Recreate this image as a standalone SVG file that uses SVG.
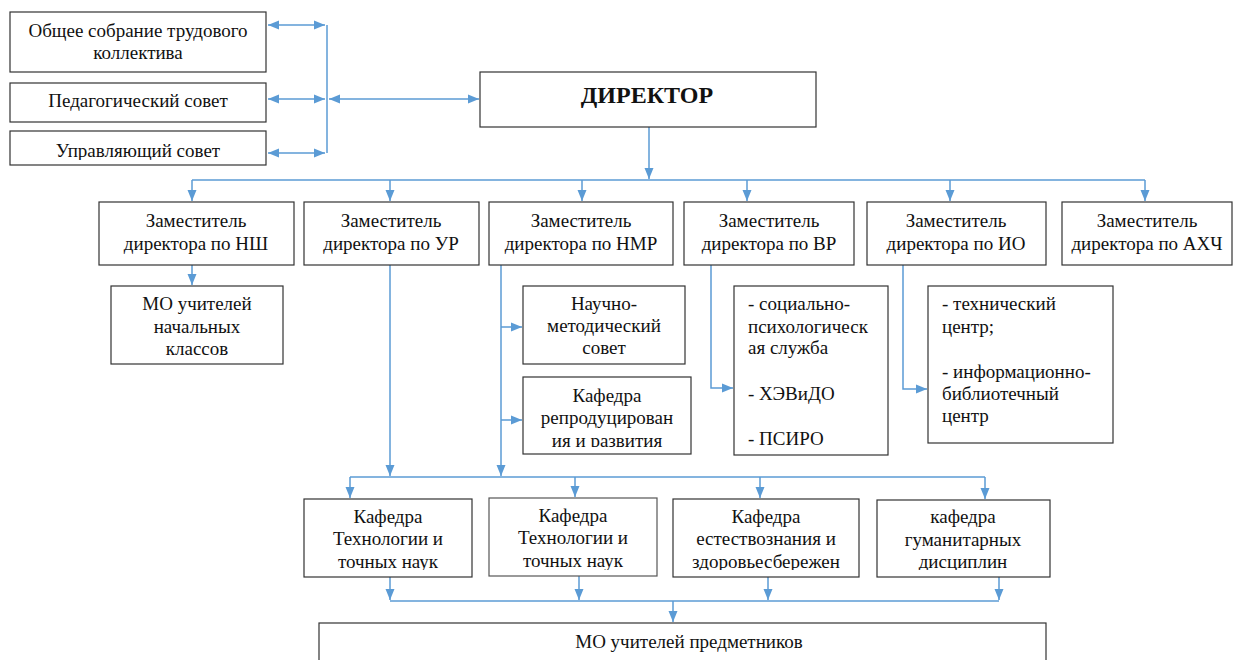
<svg xmlns="http://www.w3.org/2000/svg" width="1234" height="660" viewBox="0 0 1234 660">
<defs>
<style>
.box{fill:#fff;stroke:#333;stroke-width:1.2}
.t{font-size:19px;fill:#111}
.c{text-anchor:middle}
.b{font-weight:bold;font-size:24px}
.ln{fill:none;stroke:#5B9BD5;stroke-width:1.5}
</style>
<marker id="ah" markerUnits="userSpaceOnUse" markerWidth="12" markerHeight="12" viewBox="0 0 12 12" refX="11" refY="6" orient="auto-start-reverse">
<path d="M0,1.5 L11,6 L0,10.5 Z" fill="#5B9BD5"/>
</marker>
<clipPath id="cl1"><rect x="0" y="131" width="300" height="29"/></clipPath>
<clipPath id="cl2"><rect x="300" y="490" width="800" height="80"/></clipPath>
<clipPath id="cl3"><rect x="520" y="377" width="180" height="70"/></clipPath>
</defs>
<rect width="1234" height="660" fill="#fff"/>

<g id="connectors">
<path class="ln" d="M327,25 V153"/>
<path class="ln" d="M268,25 H325" marker-start="url(#ah)" marker-end="url(#ah)"/>
<path class="ln" d="M268,99 H325" marker-start="url(#ah)" marker-end="url(#ah)"/>
<path class="ln" d="M268,153 H325" marker-start="url(#ah)" marker-end="url(#ah)"/>
<path class="ln" d="M329,99 H479" marker-start="url(#ah)" marker-end="url(#ah)"/>
<path class="ln" d="M649,127 V179" marker-end="url(#ah)"/>
<path class="ln" d="M192,180 H1145"/>
<path class="ln" d="M192,180 V201" marker-end="url(#ah)"/>
<path class="ln" d="M390,180 V201" marker-end="url(#ah)"/>
<path class="ln" d="M582,180 V201" marker-end="url(#ah)"/>
<path class="ln" d="M747,180 V201" marker-end="url(#ah)"/>
<path class="ln" d="M950,180 V201" marker-end="url(#ah)"/>
<path class="ln" d="M1145,180 V201" marker-end="url(#ah)"/>
<path class="ln" d="M192,265 V285" marker-end="url(#ah)"/>
<path class="ln" d="M390,265 V476" marker-end="url(#ah)"/>
<path class="ln" d="M501,265 V476" marker-end="url(#ah)"/>
<path class="ln" d="M501,327 H522" marker-end="url(#ah)"/>
<path class="ln" d="M501,420 H522" marker-end="url(#ah)"/>
<path class="ln" d="M711,265 V388 H733" marker-end="url(#ah)"/>
<path class="ln" d="M903,265 V389 H927" marker-end="url(#ah)"/>
<path class="ln" d="M350,477 H985"/>
<path class="ln" d="M350,477 V498" marker-end="url(#ah)"/>
<path class="ln" d="M575,477 V497" marker-end="url(#ah)"/>
<path class="ln" d="M760,477 V498" marker-end="url(#ah)"/>
<path class="ln" d="M985,477 V499" marker-end="url(#ah)"/>
<path class="ln" d="M390,577 V600" marker-end="url(#ah)"/>
<path class="ln" d="M579,576 V600" marker-end="url(#ah)"/>
<path class="ln" d="M768,577 V600" marker-end="url(#ah)"/>
<path class="ln" d="M999,577 V600" marker-end="url(#ah)"/>
<path class="ln" d="M390,601 H999"/>
<path class="ln" d="M673,601 V622" marker-end="url(#ah)"/>
</g>

<g font-family="Liberation Serif, Times New Roman, serif">
<g id="n-sobranie">
<rect class="box" x="10" y="12" width="256" height="60"/>
<text class="t c" x="138" y="37">Общее собрание трудового</text>
<text class="t c" x="138" y="59">коллектива</text>
</g>
<g id="n-pedsovet">
<rect class="box" x="10" y="83" width="256" height="39"/>
<text class="t c" x="138" y="107">Педагогический совет</text>
</g>
<g id="n-upravsovet">
<rect class="box" x="10" y="131" width="256" height="34"/>
<text class="t c" x="138" y="157" clip-path="url(#cl1)">Управляющий совет</text>
</g>
<g id="n-director">
<rect class="box" x="480" y="72" width="336" height="55"/>
<text class="t c b" x="647" y="103">ДИРЕКТОР</text>
</g>
<g id="n-zam-nsh">
<rect class="box" x="99" y="202" width="195" height="63"/>
<text class="t c" x="196" y="227">Заместитель</text>
<text class="t c" x="196" y="250">директора по НШ</text>
</g>
<g id="n-zam-ur">
<rect class="box" x="304" y="202" width="175" height="63"/>
<text class="t c" x="391" y="227">Заместитель</text>
<text class="t c" x="391" y="250">директора по УР</text>
</g>
<g id="n-zam-nmr">
<rect class="box" x="489" y="202" width="184" height="63"/>
<text class="t c" x="581" y="227">Заместитель</text>
<text class="t c" x="581" y="250">директора по НМР</text>
</g>
<g id="n-zam-vr">
<rect class="box" x="684" y="202" width="170" height="63"/>
<text class="t c" x="769" y="227">Заместитель</text>
<text class="t c" x="769" y="250">директора по ВР</text>
</g>
<g id="n-zam-io">
<rect class="box" x="867" y="202" width="179" height="63"/>
<text class="t c" x="956" y="227">Заместитель</text>
<text class="t c" x="956" y="250">директора по ИО</text>
</g>
<g id="n-zam-ahch">
<rect class="box" x="1062" y="202" width="170" height="63"/>
<text class="t c" x="1147" y="227">Заместитель</text>
<text class="t c" x="1147" y="250">директора по АХЧ</text>
</g>
<g id="n-mo-nk">
<rect class="box" x="111" y="286" width="172" height="78"/>
<text class="t c" x="197" y="310">МО учителей</text>
<text class="t c" x="197" y="333">начальных</text>
<text class="t c" x="197" y="355">классов</text>
</g>
<g id="n-nms">
<rect class="box" x="523" y="286" width="162" height="78"/>
<text class="t c" x="604" y="310">Научно-</text>
<text class="t c" x="604" y="332">методический</text>
<text class="t c" x="604" y="354">совет</text>
</g>
<g id="n-kaf-repr">
<rect class="box" x="523" y="377" width="168" height="77"/>
<g clip-path="url(#cl3)">
<text class="t c" x="607" y="402">Кафедра</text>
<text class="t c" x="607" y="424">репродуцирован</text>
<text class="t c" x="607" y="447">ия и развития</text>
</g>
</g>
<g id="n-vr-sub">
<rect class="box" x="734" y="286" width="154" height="169"/>
<text class="t" x="748" y="310">- социально-</text>
<text class="t" x="748" y="333">психологическ</text>
<text class="t" x="748" y="354">ая служба</text>
<text class="t" x="748" y="400">- ХЭВиДО</text>
<text class="t" x="748" y="445">- ПСИРО</text>
</g>
<g id="n-io-sub">
<rect class="box" x="928" y="286" width="185" height="157"/>
<text class="t" x="942" y="310">- технический</text>
<text class="t" x="942" y="333">центр;</text>
<text class="t" x="942" y="378">- информационно-</text>
<text class="t" x="942" y="400">библиотечный</text>
<text class="t" x="942" y="422">центр</text>
</g>
<g id="n-kaf1">
<rect class="box" x="304" y="499" width="168" height="78"/>
<g clip-path="url(#cl2)">
<text class="t c" x="388" y="523">Кафедра</text>
<text class="t c" x="388" y="545">Технологии и</text>
<text class="t c" x="388" y="568">точных наук</text>
</g>
</g>
<g id="n-kaf2">
<rect class="box" x="489" y="498" width="168" height="78" style="stroke:#555"/>
<g clip-path="url(#cl2)">
<text class="t c" x="573" y="522">Кафедра</text>
<text class="t c" x="573" y="544">Технологии и</text>
<text class="t c" x="573" y="567">точных наук</text>
</g>
</g>
<g id="n-kaf3">
<rect class="box" x="673" y="499" width="186" height="78"/>
<g clip-path="url(#cl2)">
<text class="t c" x="766" y="523">Кафедра</text>
<text class="t c" x="766" y="545">естествознания и</text>
<text class="t c" x="766" y="568">здоровьесбережен</text>
</g>
</g>
<g id="n-kaf4">
<rect class="box" x="877" y="500" width="173" height="77"/>
<g clip-path="url(#cl2)">
<text class="t c" x="963" y="523">кафедра</text>
<text class="t c" x="963" y="546">гуманитарных</text>
<text class="t c" x="963" y="568">дисциплин</text>
</g>
</g>
<g id="n-mo-pred">
<rect class="box" x="319" y="623" width="727" height="50"/>
<text class="t c" x="689" y="648">МО учителей предметников</text>
</g>
</g>
</svg>
